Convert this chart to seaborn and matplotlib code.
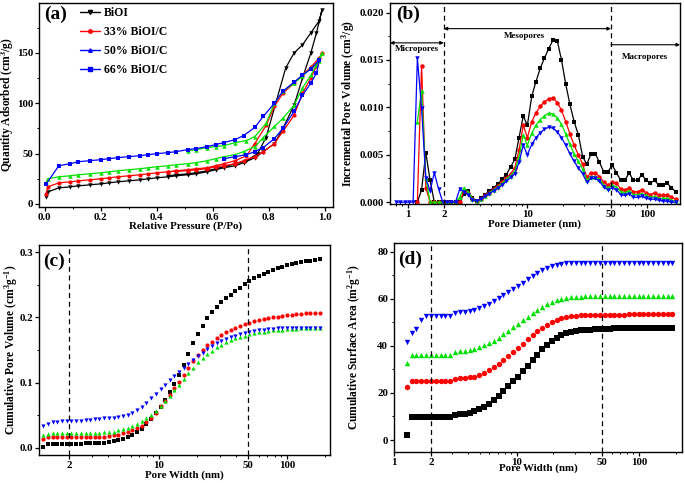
import numpy as np
import pandas as pd
import matplotlib
matplotlib.use("Agg")
import matplotlib.pyplot as plt
import seaborn as sns
from matplotlib.lines import Line2D
from matplotlib.ticker import FixedLocator, MultipleLocator, FormatStrFormatter, NullFormatter, LogLocator

# ---------------- data: (a) N2 isotherms ----------------
p_ads = [0.005, 0.01, 0.05, 0.09, 0.12, 0.16, 0.20, 0.23, 0.26, 0.30, 0.34, 0.37, 0.40, 0.44, 0.47,
         0.51, 0.54, 0.58, 0.61, 0.64, 0.68, 0.71, 0.75, 0.78, 0.82, 0.85, 0.89, 0.92, 0.95, 0.97, 0.99]
biOI_ads = [7, 12, 16, 17, 18, 19, 20, 21, 22, 23, 24, 25, 26, 27, 28, 29, 30, 32, 34, 36, 38, 41,
            46, 52, 60, 75, 98, 125, 150, 170, 193]
biOI_des_p = [0.98, 0.95, 0.92, 0.89, 0.86, 0.79, 0.76, 0.72, 0.68, 0.64, 0.61, 0.58, 0.54, 0.51, 0.47, 0.44]
biOI_des = [182, 170, 158, 150, 135, 66, 50, 43, 40, 37, 35, 33, 31, 30, 29, 28]

c33_ads = [10, 17, 21, 22, 23, 24, 25, 26, 27, 28, 29, 30, 31, 32, 32.5, 33, 34, 35, 37, 38, 40,
           43, 47, 52, 60, 72, 88, 110, 125, 137, 150]
c33_des_p = [0.98, 0.95, 0.92, 0.89, 0.85, 0.82, 0.79, 0.75, 0.72, 0.68, 0.64, 0.61, 0.58, 0.54, 0.51, 0.47, 0.44]
c33_des = [145, 136, 128, 120, 110, 97, 78, 60, 48, 43, 40, 38, 36, 35, 34, 33, 32]

c50_ads = [22, 25, 27, 28, 29, 30, 31, 32, 33, 34, 35, 36, 37, 38, 39, 40, 41, 43, 45, 47, 49, 52,
           57, 66, 77, 85, 98, 115, 128, 138, 150]
c50_des_p = [0.98, 0.95, 0.92, 0.89, 0.85, 0.82, 0.79, 0.75, 0.72, 0.68, 0.64, 0.61, 0.58, 0.54, 0.51]
c50_des = [142, 135, 127, 120, 112, 100, 80, 67, 63, 61, 58, 57, 56, 54, 53]

c66_p = [0.005, 0.05, 0.09, 0.12, 0.16, 0.20, 0.23, 0.26, 0.30, 0.34, 0.37, 0.40, 0.44, 0.47, 0.51,
         0.54, 0.58, 0.61, 0.64, 0.68, 0.71, 0.75, 0.78, 0.82, 0.85, 0.89, 0.92, 0.95, 0.98,
         0.97, 0.95, 0.92, 0.89, 0.85, 0.82, 0.78, 0.75, 0.72, 0.68, 0.64]
c66_v = [20, 38, 40, 42, 43, 44, 45, 46, 47, 48, 49, 50, 51, 52, 54, 55, 57, 59, 61, 64, 68, 76, 87,
         100, 112, 121, 128, 134, 143, 130, 120, 108, 92, 75, 65, 56, 52, 49, 47, 45]

# ---------------- data: (b) incremental pore volume ----------------
d_b = [0.80, 0.868, 0.942, 1.022, 1.109, 1.203, 1.305, 1.416, 1.537, 1.667, 1.809, 1.963, 2.13, 2.31,
       2.51, 2.72, 2.95, 3.20, 3.47, 3.77, 4.09, 4.44, 4.81, 5.22, 5.66, 6.15, 6.67, 7.23, 7.85, 8.52,
       9.24, 10.0, 10.9, 11.8, 12.8, 13.9, 15.1, 16.4, 17.8, 19.3, 20.9, 22.7, 24.6, 26.7, 29.0, 31.4,
       34.1, 37.0, 40.1, 43.5, 47.2, 51.2, 55.6, 60.3, 65.4, 71.0, 77.0, 83.6, 90.7, 98.4, 106.7,
       115.8, 125.6, 136.3, 147.9, 160.4, 174.1]
nan = float("nan")
inc_biOI = [nan, nan, nan, nan, nan, 0, 0.0013, 0.0052, 0.0023, 0, 0, 0, 0, 0,
            0, 0, 0.0009, 0.0012, 0.0004, 0.0001, 0.0004, 0.0008, 0.0012, 0.0015, 0.0019, 0.0024, 0.0029, 0.0037, 0.0045, 0.0068,
            0.0091, 0.0081, 0.0112, 0.0127, 0.0141, 0.0152, 0.0162, 0.0171, 0.0170, 0.0150, 0.0125, 0.0103, 0.0085, 0.0071, 0.0048, 0.0040,
            0.0051, 0.0051, 0.0042, 0.0032, 0.0032, 0.0039, 0.0031, 0.0023, 0.0023, 0.0031, 0.0023, 0.0023, 0.0029, 0.0023, 0.0020,
            0.0023, 0.0018, 0.0018, 0.0020, 0.0015, 0.0011]
inc_c33 = [nan, nan, nan, nan, nan, 0, 0.0144, 0.0015, 0, 0, 0, 0, 0, 0,
           0, 0, 0.0012, 0.0010, 0.0003, 0.0001, 0.0003, 0.0007, 0.0010, 0.0014, 0.0017, 0.0021, 0.0025, 0.0030, 0.0036, 0.0055,
           0.0081, 0.0068, 0.0085, 0.0094, 0.0101, 0.0106, 0.0109, 0.0110, 0.0105, 0.0097, 0.0085, 0.0072, 0.0060, 0.0050, 0.0040, 0.0026,
           0.0031, 0.0031, 0.0027, 0.0021, 0.0018, 0.0021, 0.0020, 0.0014, 0.0013, 0.0015, 0.0011, 0.0011, 0.0013, 0.0010, 0.0008,
           0.0010, 0.0007, 0.0007, 0.0008, 0.0005, 0.0003]
inc_c50 = [nan, nan, nan, nan, nan, 0.0085, 0.0117, 0.0025, 0, 0, 0, 0, 0, 0,
           0, 0.0005, 0.0015, 0.0011, 0.0003, 0.0001, 0.0003, 0.0006, 0.0010, 0.0013, 0.0016, 0.0020, 0.0024, 0.0028, 0.0033, 0.0048,
           0.0071, 0.0060, 0.0073, 0.0081, 0.0087, 0.0091, 0.0094, 0.0093, 0.0089, 0.0082, 0.0072, 0.0061, 0.0051, 0.0043, 0.0035, 0.0023,
           0.0027, 0.0027, 0.0024, 0.0018, 0.0015, 0.0018, 0.0016, 0.0011, 0.0010, 0.0012, 0.0008, 0.0008, 0.0009, 0.0007, 0.0005,
           0.0006, 0.0004, 0.0004, 0.0004, 0.0002, 0.0001]
inc_c66 = [0, 0, 0, 0, 0, 0.0152, 0.0099, 0.0025, 0.0012, 0.0031, 0.0014, 0, 0, 0,
           0, 0.0014, 0.0011, 0.0008, 0.0002, 0.0001, 0.0003, 0.0006, 0.0009, 0.0012, 0.0015, 0.0018, 0.0022, 0.0026, 0.0030, 0.0042,
           0.0060, 0.0050, 0.0061, 0.0068, 0.0073, 0.0077, 0.0079, 0.0078, 0.0074, 0.0068, 0.0060, 0.0051, 0.0043, 0.0036, 0.0030, 0.0021,
           0.0025, 0.0025, 0.0022, 0.0016, 0.0013, 0.0015, 0.0013, 0.0008, 0.0007, 0.0009, 0.0005, 0.0005, 0.0006, 0.0004, 0.0003,
           0.0003, 0.0002, 0.0001, 0.0001, 0.0000, 0.0000]

# ---------------- data: (c) cumulative pore volume ----------------
w_c = [1.25, 1.36, 1.48, 1.61, 1.75, 1.90, 2.07, 2.25, 2.45, 2.67, 2.90, 3.16, 3.43, 3.74, 4.06, 4.42,
       4.81, 5.23, 5.69, 6.19, 6.74, 7.33, 7.97, 8.68, 9.44, 10.3, 11.2, 12.2, 13.2, 14.4, 15.7, 17.0,
       18.5, 20.2, 21.9, 23.9, 26.0, 28.3, 30.8, 33.5, 36.4, 39.6, 43.1, 46.9, 51.0, 55.5, 60.4, 65.7,
       71.5, 77.8, 84.6, 92.1, 100.2, 109, 118.6, 129, 140.4, 152.7, 166.2, 180.8]
cv_biOI = [0.001, 0.006, 0.006, 0.006, 0.006, 0.006, 0.006, 0.006, 0.006, 0.007, 0.007, 0.007, 0.008, 0.008,
           0.009, 0.010, 0.012, 0.014, 0.016, 0.019, 0.024, 0.029, 0.036, 0.044, 0.053, 0.063, 0.074, 0.086,
           0.098, 0.111, 0.127, 0.144, 0.160, 0.175, 0.187, 0.199, 0.208, 0.216, 0.223, 0.229, 0.235, 0.240,
           0.245, 0.251, 0.256, 0.260, 0.264, 0.267, 0.270, 0.273, 0.276, 0.278, 0.280, 0.282, 0.284, 0.285,
           0.286, 0.287, 0.288, 0.289]
cv_c33 = [0.014, 0.016, 0.016, 0.016, 0.016, 0.016, 0.016, 0.016, 0.016, 0.016, 0.016, 0.016, 0.017, 0.017,
          0.018, 0.019, 0.020, 0.022, 0.024, 0.027, 0.030, 0.034, 0.040, 0.046, 0.054, 0.064, 0.072, 0.081,
          0.091, 0.101, 0.112, 0.123, 0.133, 0.142, 0.150, 0.157, 0.163, 0.168, 0.173, 0.177, 0.181, 0.184,
          0.187, 0.190, 0.192, 0.194, 0.196, 0.198, 0.199, 0.200, 0.201, 0.202, 0.203, 0.204, 0.205, 0.205,
          0.206, 0.206, 0.207, 0.207]
cv_c50 = [0.019, 0.021, 0.022, 0.022, 0.022, 0.022, 0.022, 0.022, 0.022, 0.022, 0.022, 0.022, 0.023, 0.024,
          0.024, 0.025, 0.027, 0.029, 0.031, 0.034, 0.037, 0.041, 0.046, 0.051, 0.057, 0.064, 0.072, 0.080,
          0.088, 0.097, 0.106, 0.115, 0.123, 0.131, 0.138, 0.144, 0.149, 0.154, 0.158, 0.162, 0.165, 0.168,
          0.170, 0.172, 0.174, 0.176, 0.177, 0.178, 0.179, 0.180, 0.181, 0.181, 0.182, 0.182, 0.182, 0.183,
          0.183, 0.183, 0.183, 0.183]
cv_c66 = [0.033, 0.036, 0.039, 0.040, 0.041, 0.041, 0.041, 0.041, 0.041, 0.043, 0.043, 0.044, 0.044, 0.045,
          0.045, 0.046, 0.047, 0.049, 0.051, 0.054, 0.058, 0.063, 0.069, 0.076, 0.083, 0.090, 0.097, 0.104,
          0.110, 0.116, 0.123, 0.129, 0.135, 0.141, 0.146, 0.151, 0.156, 0.160, 0.164, 0.167, 0.170, 0.172,
          0.174, 0.176, 0.177, 0.179, 0.180, 0.181, 0.182, 0.182, 0.183, 0.183, 0.183, 0.183, 0.183, 0.183,
          0.183, 0.183, 0.183, 0.183]

# ---------------- data: (d) cumulative surface area ----------------
w_d = [1.27, 1.39, 1.52, 1.67, 1.83, 2.0, 2.19, 2.40, 2.63, 2.88, 3.15, 3.45, 3.78, 4.14, 4.53, 4.96,
       5.43, 5.95, 6.51, 7.13, 7.81, 8.55, 9.36, 10.2, 11.2, 12.3, 13.5, 14.7, 16.1, 17.7, 19.3, 21.2,
       23.2, 25.4, 27.8, 30.5, 33.4, 36.5, 40.0, 43.8, 48.0, 52.5, 57.5, 63.0, 69.0, 75.5, 82.7, 90.6,
       99.2, 108.6, 118.9, 130.2, 142.6, 156.1, 171.0, 187.2]
sa_biOI = [2.1, 9.8, 9.8, 9.8, 9.8, 9.8, 9.8, 9.8, 9.8, 9.8, 10.8, 11.0, 11.2, 11.6, 12.2, 13.0,
           14.1, 15.4, 17.0, 18.8, 20.8, 22.8, 24.9, 27.0, 29.3, 31.6, 34.0, 36.3, 38.5, 40.5, 42.2, 43.6,
           44.7, 45.5, 46.0, 46.4, 46.7, 46.9, 47.0, 47.1, 47.2, 47.3, 47.4, 47.5, 47.5, 47.6, 47.6, 47.7,
           47.7, 47.7, 47.8, 47.8, 47.8, 47.8, 47.8, 47.8]
sa_c33 = [22.7, 25.0, 25.0, 25.0, 25.0, 25.0, 25.0, 25.0, 25.0, 25.0, 26.0, 26.2, 26.3, 26.6, 27.0, 27.8,
          28.7, 29.8, 31.0, 32.4, 34.0, 35.7, 37.4, 39.2, 41.0, 42.8, 44.6, 46.3, 47.8, 49.1, 50.2, 51.1,
          51.8, 52.3, 52.6, 52.8, 53.0, 53.1, 53.2, 53.2, 53.3, 53.3, 53.3, 53.3, 53.3, 53.3, 53.4, 53.4,
          53.4, 53.4, 53.4, 53.4, 53.4, 53.4, 53.4, 53.4]
sa_c50 = [32.7, 36.3, 36.3, 36.3, 36.3, 36.3, 36.3, 36.3, 36.3, 36.3, 37.6, 37.8, 37.9, 38.2, 38.7, 39.4,
          40.2, 41.2, 42.3, 43.6, 45.0, 46.5, 48.0, 49.5, 51.0, 52.5, 54.0, 55.4, 56.7, 57.8, 58.7, 59.4,
          60.0, 60.4, 60.7, 60.9, 61.0, 61.1, 61.2, 61.2, 61.2, 61.2, 61.3, 61.3, 61.3, 61.3, 61.3, 61.3,
          61.4, 61.4, 61.4, 61.4, 61.4, 61.4, 61.4, 61.4]
sa_c66 = [41.6, 45.4, 47.1, 51.0, 52.6, 52.8, 52.8, 52.8, 52.8, 52.8, 54.2, 54.4, 54.6, 54.9, 55.4, 56.1,
          57.0, 58.0, 59.1, 60.3, 61.6, 62.9, 64.2, 65.5, 66.9, 68.3, 69.7, 71.0, 72.2, 73.2, 74.0, 74.6,
          75.0, 75.2, 75.3, 75.3, 75.3, 75.3, 75.4, 75.4, 75.4, 75.4, 75.4, 75.4, 75.4, 75.4, 75.5, 75.5,
          75.5, 75.5, 75.5, 75.5, 75.5, 75.5, 75.5, 75.5]

legend_labels = ["BiOI", "33% BiOI/C", "50% BiOI/C", "66% BiOI/C"]
x_ticks_log = [1, 2, 10, 50, 100]

# ---------------- style ----------------
sns.set_theme(style="ticks")
plt.rcParams.update({
    "font.family": ["Liberation Serif", "DejaVu Serif"],
    "font.weight": "bold",
    "axes.labelweight": "bold",
    "font.size": 7.5,
    "axes.labelsize": 7.8,
    "xtick.labelsize": 7.8,
    "ytick.labelsize": 7.8,
    "mathtext.fontset": "custom",
    "mathtext.rm": "Liberation Serif:bold",
    "mathtext.bf": "Liberation Serif:bold",
    "mathtext.it": "Liberation Serif:bold",
    "mathtext.default": "bf",
    "axes.linewidth": 1.0,
    "xtick.direction": "out",
    "ytick.direction": "out",
    "xtick.major.size": 2.8,
    "ytick.major.size": 2.8,
    "xtick.minor.size": 1.6,
    "ytick.minor.size": 1.6,
    "xtick.major.width": 0.9,
    "ytick.major.width": 0.9,
    "xtick.minor.width": 0.7,
    "ytick.minor.width": 0.7,
    "xtick.major.pad": 1.5,
    "ytick.major.pad": 1.5,
    "xtick.color": "black",
    "ytick.color": "black",
    "axes.edgecolor": "black",
    "text.color": "black",
    "axes.labelcolor": "black",
})

BLACK, RED, GREEN, BLUE = "#000000", "#ff0000", "#00e000", "#0000ff"
YLAB = 8.3

fig = plt.figure(figsize=(6.85, 4.83), dpi=100)
ax_a = fig.add_axes([0.0569, 0.5714, 0.4292, 0.4224])
ax_b = fig.add_axes([0.5693, 0.5776, 0.4234, 0.4161])
ax_c = fig.add_axes([0.0569, 0.0580, 0.4248, 0.4348])
ax_d = fig.add_axes([0.5752, 0.0642, 0.4204, 0.4327])

for ax in (ax_a, ax_b, ax_c, ax_d):
    for s in ax.spines.values():
        s.set_visible(True)
        s.set_linewidth(1.0)

# ---------------- (a) ----------------
def loop(p1, v1, p2, v2):
    return pd.DataFrame({"P": list(p1) + list(p2), "V": list(v1) + list(v2)})

df = loop(p_ads, biOI_ads, biOI_des_p, biOI_des)
sns.lineplot(data=df, x="P", y="V", sort=False, estimator=None, ax=ax_a, color=BLACK,
             marker="v", markersize=3.2, markeredgewidth=0, linewidth=0.9)
df = loop(p_ads, c33_ads, c33_des_p, c33_des)
sns.lineplot(data=df, x="P", y="V", sort=False, estimator=None, ax=ax_a, color=RED,
             marker="o", markersize=3.0, markeredgewidth=0, linewidth=0.9)
df = loop(p_ads, c50_ads, c50_des_p, c50_des)
sns.lineplot(data=df, x="P", y="V", sort=False, estimator=None, ax=ax_a, color=GREEN,
             marker="^", markersize=3.2, markeredgewidth=0, linewidth=0.9)
df = pd.DataFrame({"P": c66_p, "V": c66_v})
sns.lineplot(data=df, x="P", y="V", sort=False, estimator=None, ax=ax_a, color=BLUE,
             marker="s", markersize=2.8, markeredgewidth=0, linewidth=0.9)

ax_a.set_xlim(-0.021, 1.029)
ax_a.set_ylim(-3, 199.6)
ax_a.xaxis.set_major_locator(FixedLocator([0, 0.2, 0.4, 0.6, 0.8, 1.0]))
ax_a.xaxis.set_major_formatter(FormatStrFormatter("%.1f"))
ax_a.xaxis.set_minor_locator(MultipleLocator(0.1))
ax_a.yaxis.set_major_locator(FixedLocator([0, 50, 100, 150]))
ax_a.yaxis.set_minor_locator(MultipleLocator(25))
ax_a.set_xlabel("Relative Pressure (P/Po)")
ax_a.set_ylabel("Quantity Adsorbed (cm$^3$/g)", fontsize=YLAB)
ax_a.xaxis.set_label_coords(0.5, -0.069)
ax_a.yaxis.set_label_coords(-0.077, 0.5)

handles = [
    Line2D([], [], color=BLACK, marker="v", markersize=3, linewidth=1),
    Line2D([], [], color=RED, marker="o", markersize=2.5, linewidth=1),
    Line2D([], [], color=BLUE, marker="^", markersize=2.5, linewidth=1),
    Line2D([], [], color=BLUE, marker="s", markersize=2.5, linewidth=1),
]
ax_a.legend(handles, legend_labels, loc="upper left", bbox_to_anchor=(0.14, 0.98), frameon=False,
            borderpad=0, borderaxespad=0, handlelength=1.7, handletextpad=0.3, labelspacing=0.6,
            prop={"weight": "bold", "size": 8.5})
ax_a.text(0.017, 0.985, "(a)", transform=ax_a.transAxes, ha="left", va="top", fontsize=14, fontweight="bold")

# ---------------- (b) ----------------
series_b = [(inc_biOI, BLACK, "s"), (inc_c33, RED, "o"), (inc_c50, GREEN, "^"), (inc_c66, BLUE, "v")]
for vals, col, mk in series_b:
    df = pd.DataFrame({"d": d_b, "v": vals}).dropna()
    sns.lineplot(data=df, x="d", y="v", sort=False, estimator=None, ax=ax_b, color=col,
                 marker=mk, markersize=3.2, markeredgewidth=0, linewidth=0.9)
ax_b.set_xscale("log")
ax_b.set_xlim(0.71, 189)
ax_b.set_ylim(-0.0002, 0.021)
ax_b.xaxis.set_major_locator(FixedLocator(x_ticks_log))
ax_b.xaxis.set_major_formatter(FormatStrFormatter("%g"))
ax_b.xaxis.set_minor_locator(LogLocator(base=10, subs=np.arange(2, 10)))
ax_b.xaxis.set_minor_formatter(NullFormatter())
ax_b.yaxis.set_major_locator(FixedLocator([0, 0.005, 0.010, 0.015, 0.020]))
ax_b.yaxis.set_major_formatter(FormatStrFormatter("%.3f"))
ax_b.yaxis.set_minor_locator(MultipleLocator(0.0025))
ax_b.set_xlabel("Pore Diameter (nm)")
ax_b.set_ylabel("Incremental Pore Volume (cm$^3$/g)", fontsize=YLAB)
ax_b.xaxis.set_label_coords(0.5, -0.075)
ax_b.yaxis.set_label_coords(-0.112, 0.5)
for xv in (2, 50):
    ax_b.axvline(xv, color="black", linestyle=(0, (4, 3)), linewidth=0.9)
arw = dict(arrowstyle="<|-|>", color="black", lw=0.8, mutation_scale=5, shrinkA=0, shrinkB=0)
ax_b.annotate("", xy=(0.71, 0.0168), xytext=(2, 0.0168), arrowprops=arw)
ax_b.annotate("", xy=(2, 0.0183), xytext=(50, 0.0183), arrowprops=arw)
ax_b.annotate("", xy=(189, 0.0166), xytext=(50, 0.0166),
              arrowprops=dict(arrowstyle="-|>", color="black", lw=0.8, mutation_scale=5, shrinkA=0, shrinkB=0))
ax_b.text(1.2, 0.0161, "Micropores", ha="center", va="center", fontsize=6.5, fontweight="bold")
ax_b.text(9.4, 0.0175, "Mesopores", ha="center", va="center", fontsize=6.5, fontweight="bold")
ax_b.text(97, 0.0153, "Macropores", ha="center", va="center", fontsize=6.5, fontweight="bold")
ax_b.text(0.02, 0.985, "(b)", transform=ax_b.transAxes, ha="left", va="top", fontsize=14, fontweight="bold")

# ---------------- (c) ----------------
series_c = [(cv_biOI, BLACK, "s"), (cv_c33, RED, "o"), (cv_c50, GREEN, "^"), (cv_c66, BLUE, "v")]
for vals, col, mk in series_c:
    df = pd.DataFrame({"w": w_c, "v": vals})
    sns.scatterplot(data=df, x="w", y="v", ax=ax_c, color=col, marker=mk, s=9, linewidth=0)
ax_c.set_xscale("log")
ax_c.set_xlim(1.155, 217)
ax_c.set_ylim(-0.011, 0.311)
ax_c.xaxis.set_major_locator(FixedLocator([2, 10, 50, 100]))
ax_c.xaxis.set_major_formatter(FormatStrFormatter("%g"))
ax_c.xaxis.set_minor_locator(LogLocator(base=10, subs=np.arange(2, 10)))
ax_c.xaxis.set_minor_formatter(NullFormatter())
ax_c.yaxis.set_major_locator(FixedLocator([0, 0.1, 0.2, 0.3]))
ax_c.yaxis.set_major_formatter(FormatStrFormatter("%.1f"))
ax_c.yaxis.set_minor_locator(MultipleLocator(0.05))
ax_c.set_xlabel("Pore Width (nm)")
ax_c.set_ylabel("Cumulative Pore Volume (cm$^3$g$^{-1}$)", fontsize=YLAB)
ax_c.xaxis.set_label_coords(0.5, -0.071)
ax_c.yaxis.set_label_coords(-0.066, 0.5)
for xv in (2, 50):
    ax_c.axvline(xv, color="black", linestyle=(0, (4, 3)), linewidth=0.9)
ax_c.text(0.013, 0.965, "(c)", transform=ax_c.transAxes, ha="left", va="top", fontsize=14, fontweight="bold")

# ---------------- (d) ----------------
series_d = [(sa_biOI, BLACK, "s"), (sa_c33, RED, "o"), (sa_c50, GREEN, "^"), (sa_c66, BLUE, "v")]
for vals, col, mk in series_d:
    df = pd.DataFrame({"w": w_d, "s": vals})
    sns.scatterplot(data=df, x="w", y="s", ax=ax_d, color=col, marker=mk, s=15, linewidth=0)
ax_d.set_xscale("log")
ax_d.set_xlim(1.0, 224)
ax_d.set_ylim(-5.1, 83.8)
ax_d.xaxis.set_major_locator(FixedLocator(x_ticks_log))
ax_d.xaxis.set_major_formatter(FormatStrFormatter("%g"))
ax_d.xaxis.set_minor_locator(LogLocator(base=10, subs=np.arange(2, 10)))
ax_d.xaxis.set_minor_formatter(NullFormatter())
ax_d.yaxis.set_major_locator(FixedLocator([0, 20, 40, 60, 80]))
ax_d.yaxis.set_minor_locator(MultipleLocator(10))
ax_d.set_xlabel("Pore Width (nm)")
ax_d.set_ylabel("Cumulative Surface Area (m$^2$g$^{-1}$)", fontsize=YLAB)
ax_d.xaxis.set_label_coords(0.5, -0.053)
ax_d.yaxis.set_label_coords(-0.109, 0.5)
for xv in (2, 50):
    ax_d.axvline(xv, color="black", linestyle=(0, (4, 3)), linewidth=0.9)
ax_d.text(0.013, 0.965, "(d)", transform=ax_d.transAxes, ha="left", va="top", fontsize=14, fontweight="bold")

for ax in (ax_a, ax_b, ax_c, ax_d):
    ax.tick_params(top=False, right=False)
    for lab in ax.get_xticklabels() + ax.get_yticklabels():
        lab.set_fontweight("bold")

fig.savefig("out.png", dpi=100)
